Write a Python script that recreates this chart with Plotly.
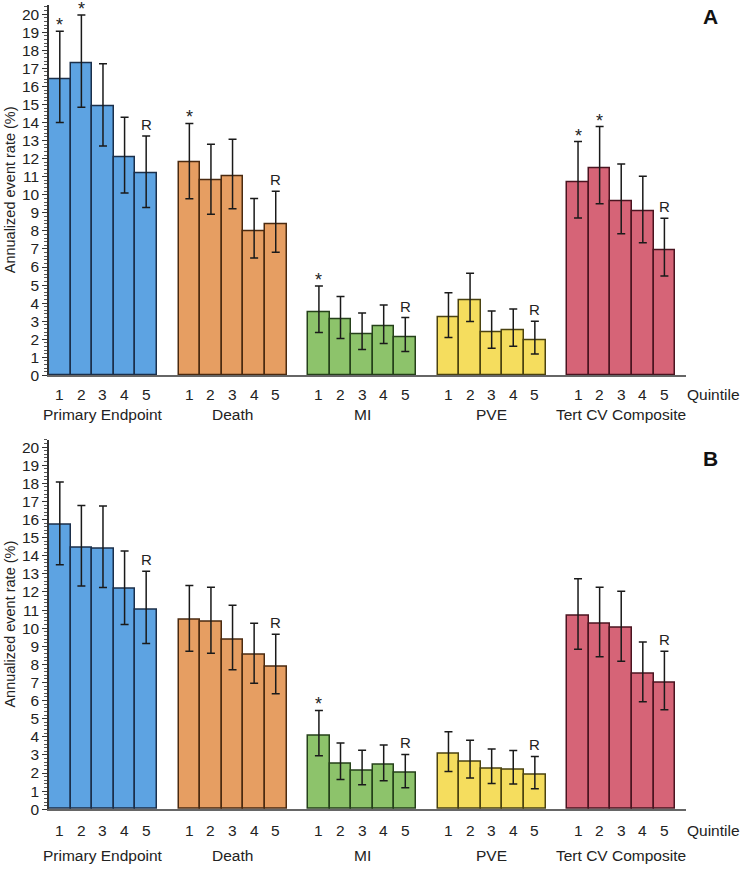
import plotly.graph_objects as go

groups = ["Primary Endpoint", "Death", "MI", "PVE", "Tert CV Composite"]
quintiles = ["1", "2", "3", "4", "5"]
fill_colors = ["#5DA3E2", "#E69E62", "#8DC36B", "#F5DD5E", "#D66477"]
edge_colors = ["#1B2F4A", "#4A2A10", "#25401A", "#4A4210", "#4A1420"]

# Panel A
A_rate = [[16.4, 17.3, 14.9, 12.1, 11.2],
          [11.8, 10.8, 11.05, 8.0, 8.4],
          [3.5, 3.1, 2.3, 2.7, 2.1],
          [3.2, 4.15, 2.4, 2.5, 1.95],
          [10.7, 11.5, 9.65, 9.1, 6.95]]
A_upper = [[19.05, 19.95, 17.25, 14.3, 13.25],
           [13.95, 12.8, 13.07, 9.8, 10.2],
           [4.95, 4.37, 3.45, 3.9, 3.2],
           [4.57, 5.65, 3.57, 3.68, 3.0],
           [12.95, 13.78, 11.7, 11.03, 8.7]]
A_lower = [[14.0, 14.85, 12.7, 10.1, 9.3],
           [9.78, 8.92, 9.23, 6.5, 6.82],
           [2.38, 2.05, 1.43, 1.77, 1.32],
           [2.1, 2.98, 1.51, 1.61, 1.18],
           [8.72, 9.5, 7.84, 7.35, 5.5]]
A_star = [[1, 1, 0, 0, 0], [1, 0, 0, 0, 0], [1, 0, 0, 0, 0], [0, 0, 0, 0, 0], [1, 1, 0, 0, 0]]

# Panel B
B_rate = [[15.7, 14.43, 14.38, 12.15, 11.02],
          [10.46, 10.35, 9.37, 8.51, 7.89],
          [4.08, 2.51, 2.15, 2.44, 1.99],
          [3.06, 2.62, 2.22, 2.19, 1.88],
          [10.68, 10.22, 10.02, 7.47, 7.0]]
B_upper = [[18.07, 16.78, 16.74, 14.26, 13.14],
           [12.35, 12.26, 11.26, 10.27, 9.66],
           [5.46, 3.66, 3.26, 3.55, 3.03],
           [4.28, 3.81, 3.33, 3.25, 2.92],
           [12.73, 12.26, 12.04, 9.24, 8.73]]
B_lower = [[13.5, 12.33, 12.24, 10.2, 9.15],
           [8.73, 8.62, 7.7, 6.96, 6.38],
           [2.95, 1.64, 1.35, 1.58, 1.19],
           [2.08, 1.73, 1.42, 1.40, 1.13],
           [8.84, 8.42, 8.18, 5.94, 5.5]]
B_star = [[0, 0, 0, 0, 0], [0, 0, 0, 0, 0], [1, 0, 0, 0, 0], [0, 0, 0, 0, 0], [0, 0, 0, 0, 0]]

panel_letters = ["A", "B"]

W, H = 740, 873
FONT = "Liberation Sans, Arial, sans-serif"
TXT = "#222222"

def px_x(p):
    return p / W

def px_y(p):
    return 1 - p / H

fig = go.Figure()
annotations = []

panels = [
    dict(rate=A_rate, up=A_upper, lo=A_lower, star=A_star, xa="x", ya="y",
         ydom=[px_y(378.3), px_y(4.2)], yr=[0, 20.5], tick_y=398, grp_y=418, letter_y=16),
    dict(rate=B_rate, up=B_upper, lo=B_lower, star=B_star, xa="x2", ya="y2",
         ydom=[px_y(816.7), px_y(443.4)], yr=[0, 20.4], tick_y=838, grp_y=863, letter_y=462),
]

tickvals, ticktext = [], []
for g in range(len(groups)):
    for q in range(len(quintiles)):
        tickvals.append(g * 6 + q)
        ticktext.append(quintiles[q])

for pi, P in enumerate(panels):
    for g, name in enumerate(groups):
        xs = [g * 6 + q for q in range(len(quintiles))]
        vals = P["rate"][g]
        plus = [u - v for u, v in zip(P["up"][g], vals)]
        minus = [v - l for v, l in zip(vals, P["lo"][g])]
        fig.add_trace(go.Bar(
            x=xs, y=vals, width=1, xaxis=P["xa"], yaxis=P["ya"],
            marker=dict(color=fill_colors[g], line=dict(color=edge_colors[g], width=1.5)),
            error_y=dict(type="data", symmetric=False, array=plus, arrayminus=minus,
                         color="#1a1a1a", thickness=1.5, width=4),
            showlegend=False, hoverinfo="y", name=name,
        ))
        for q in range(len(quintiles)):
            top = P["up"][g][q]
            if P["star"][g][q]:
                annotations.append(dict(x=g * 6 + q, y=top, xref=P["xa"], yref=P["ya"],
                                        text="*", showarrow=False, yanchor="bottom",
                                        yshift=-6, font=dict(family=FONT, size=18, color=TXT)))
            if q == len(quintiles) - 1:
                annotations.append(dict(x=g * 6 + q, y=top, xref=P["xa"], yref=P["ya"],
                                        text="R", showarrow=False, yanchor="bottom",
                                        yshift=1, font=dict(family=FONT, size=15, color=TXT)))
        annotations.append(dict(x=g * 6 + 2, y=px_y(P["grp_y"]), xref=P["xa"], yref="paper",
                                text=name, showarrow=False, yanchor="middle",
                                font=dict(family=FONT, size=15.5, color=TXT)))
    for tv, tt in zip(tickvals, ticktext):
        annotations.append(dict(x=tv, y=px_y(P["tick_y"]), xref=P["xa"], yref="paper",
                                text=tt, showarrow=False, yanchor="middle",
                                font=dict(family=FONT, size=15.5, color=TXT)))
    annotations.append(dict(x=px_x(685), y=px_y(P["tick_y"]), xref="paper", yref="paper",
                            text="Quintile", showarrow=False, xanchor="left", yanchor="middle",
                            font=dict(family=FONT, size=15.5, color=TXT)))
    annotations.append(dict(x=px_x(710), y=px_y(P["letter_y"]), xref="paper", yref="paper",
                            text="<b>" + panel_letters[pi] + "</b>", showarrow=False,
                            xanchor="center", yanchor="middle",
                            font=dict(family=FONT, size=21, color="#111111")))
    annotations.append(dict(x=px_x(10), y=(P["ydom"][0] + P["ydom"][1]) / 2,
                            xref="paper", yref="paper", text="Annualized event rate (%)",
                            textangle=-90, showarrow=False, xanchor="center", yanchor="middle",
                            font=dict(family=FONT, size=14.5, color=TXT)))

xaxis_common = dict(domain=[px_x(49), px_x(686)], range=[-0.5, 29.0], showgrid=False,
                    zeroline=False, showline=True, linecolor="#666666", linewidth=1.5,
                    showticklabels=False, ticks="", fixedrange=True)
yaxis_common = dict(dtick=1, tick0=0, showgrid=False, zeroline=False, showline=True,
                    linecolor="#333333", linewidth=1.5, ticks="outside", ticklen=5,
                    tickwidth=1, tickcolor="#333333",
                    minor=dict(dtick=0.2, ticks="outside", ticklen=3, tickcolor="#555555", tickwidth=1),
                    tickfont=dict(family=FONT, size=15.5, color=TXT), ticklabelstandoff=0)

fig.update_layout(
    width=W, height=H, margin=dict(l=0, r=0, t=0, b=0),
    paper_bgcolor="white", plot_bgcolor="white",
    barmode="overlay", bargap=0,
    xaxis=dict(**xaxis_common, anchor="y"),
    xaxis2=dict(**xaxis_common, anchor="y2"),
    yaxis=dict(**yaxis_common, domain=panels[0]["ydom"], range=panels[0]["yr"], anchor="x"),
    yaxis2=dict(**yaxis_common, domain=panels[1]["ydom"], range=panels[1]["yr"], anchor="x2"),
    annotations=annotations,
    font=dict(family=FONT, color=TXT),
)

fig.write_html("out.html", config={"displayModeBar": False},
               post_script="document.body.style.margin='0';document.body.style.overflow='hidden';")
